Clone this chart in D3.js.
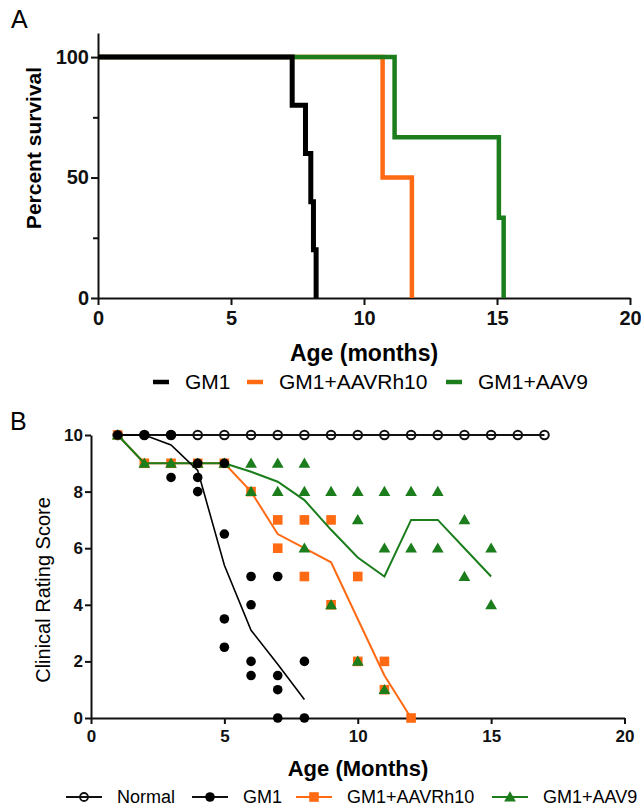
<!DOCTYPE html>
<html>
<head>
<meta charset="utf-8">
<script src="https://cdn.jsdelivr.net/npm/d3@7"></script>
<style>
  body { margin: 0; background: #fff; }
  svg { display: block; font-family: "Liberation Sans", Arial, sans-serif; }
  .tick text { fill: #111; }
</style>
</head>
<body>
<svg id="chart" width="641" height="807"></svg>
<script>
// ---- data: panel A (Kaplan-Meier survival, [month, percent]) ----
var survGM1 = [[0, 100], [7.3, 80], [7.8, 60], [8.0, 40], [8.1, 20], [8.2, 0]];
var survRh10 = [[0, 100], [10.7, 50], [11.8, 0]];
var survAAV9 = [[0, 100], [11.15, 66.7], [15.07, 33.3], [15.25, 0]];
var survTicksY = [0, 25, 50, 75, 100];
var monthTicks = [0, 5, 10, 15, 20];

// ---- data: panel B (clinical rating score, [month, score]) ----
var normalPts = [[1, 10], [2, 10], [3, 10], [4, 10], [5, 10], [6, 10], [7, 10], [8, 10], [9, 10],
    [10, 10], [11, 10], [12, 10], [13, 10], [14, 10], [15, 10], [16, 10], [17, 10]];
var gm1Pts = [[1, 10], [2, 10], [3, 10], [3, 8.5], [4, 9], [4, 8.5], [4, 8], [5, 9], [5, 6.5], [5, 3.5],
    [5, 2.5], [6, 5], [6, 4], [6, 2], [6, 1.5], [7, 5], [7, 1.5], [7, 1], [7, 0], [8, 2], [8, 0]];
var gm1Mean = [[1, 10], [2, 10], [3, 9.65], [4, 8.75], [5, 5.4], [6, 3.1], [7, 1.9], [8, 0.65]];
var rh10Pts = [[1, 10], [2, 9], [3, 9], [4, 9], [5, 9], [6, 8], [7, 7], [7, 6], [8, 7], [8, 5], [9, 7],
    [9, 4], [10, 5], [10, 2], [11, 2], [11, 1], [12, 0]];
var rh10Mean = [[1, 10], [2, 9], [3, 9], [4, 9], [5, 9], [6, 8], [7, 6.5], [8, 6], [9, 5.5], [10, 3.5],
    [11, 1.5], [12, 0]];
var aav9Pts = [[1, 10], [2, 9], [3, 9], [4, 9], [5, 9], [6, 9], [6, 8], [7, 9], [7, 8], [8, 9], [8, 8],
    [8, 6], [9, 8], [9, 4], [10, 8], [10, 7], [10, 2], [11, 8], [11, 6], [11, 1], [12, 8], [12, 6],
    [13, 8], [13, 6], [14, 7], [14, 5], [15, 6], [15, 4]];
var aav9Mean = [[1, 10], [2, 9], [3, 9], [4, 9], [5, 9], [6, 8.7], [7, 8.35], [8, 7.7], [9, 6.65],
    [10, 5.67], [11, 5], [12, 7], [13, 7], [14, 6], [15, 5]];
var scoreTicks = [0, 2, 4, 6, 8, 10];

var black = "#000", orange = "#ff6a13", green = "#1b7d1b";

var svg = d3.select("#chart");
svg.append("rect").attr("width", 641).attr("height", 807).attr("fill", "#fff");

/****** Panel A ******/
var xA = d3.scaleLinear().domain([0, 20]).range([98, 630]),
    yA = d3.scaleLinear().domain([0, 110]).range([298, 33]);

var gA = svg.append("g");

var axA_x = gA.append("g").attr("transform", "translate(0," + yA(0) + ")")
    .call(d3.axisBottom(xA).tickValues(monthTicks).tickSize(7).tickSizeOuter(0).tickPadding(6));
var axA_y = gA.append("g").attr("transform", "translate(" + xA(0) + ",0)")
    .call(d3.axisLeft(yA).tickValues(survTicksY).tickSize(7).tickSizeOuter(0).tickPadding(2)
        .tickFormat(function (d) { return d % 50 === 0 ? d : ""; }));
axA_y.selectAll(".tick line").attr("x2", function (d) { return d % 50 === 0 ? -7 : -5; });

[axA_x, axA_y].forEach(function (ax) {
    ax.select(".domain").attr("stroke", "#111").attr("stroke-width", 2);
    ax.selectAll(".tick line").attr("stroke", "#111").attr("stroke-width", 2);
    ax.selectAll(".tick text").attr("font-size", 20).attr("font-weight", "bold");
});

var stepLine = d3.line()
    .x(function (d) { return xA(d[0]); })
    .y(function (d) { return yA(d[1]); })
    .curve(d3.curveStepAfter);

[[survRh10, orange, 4.5], [survAAV9, green, 4.5], [survGM1, black, 5]].forEach(function (s) {
    gA.append("path").datum(s[0])
        .attr("d", stepLine)
        .attr("fill", "none")
        .attr("stroke", s[1])
        .attr("stroke-width", s[2])
        .attr("stroke-linejoin", "miter")
        .attr("stroke-linecap", "butt");
});

gA.append("text").attr("x", 11).attr("y", 28).attr("font-size", 25).text("A");
gA.append("text")
    .attr("transform", "translate(41,148) rotate(-90)")
    .attr("text-anchor", "middle").attr("font-size", 21).attr("font-weight", "bold")
    .text("Percent survival");
gA.append("text").attr("x", 364).attr("y", 361)
    .attr("text-anchor", "middle").attr("font-size", 23).attr("font-weight", "bold")
    .text("Age (months)");

var legendA = [["GM1", black, 153], ["GM1+AAVRh10", orange, 247], ["GM1+AAV9", green, 446]];
legendA.forEach(function (l) {
    gA.append("line").attr("x1", l[2]).attr("x2", l[2] + 16).attr("y1", 382).attr("y2", 382)
        .attr("stroke", l[1]).attr("stroke-width", 4.5);
    gA.append("text").attr("x", l[2] + 32).attr("y", 389).attr("font-size", 21).text(l[0]);
});

/****** Panel B ******/
var xB = d3.scaleLinear().domain([0, 20]).range([91, 624.5]),
    yB = d3.scaleLinear().domain([0, 10]).range([718, 435]);

var gB = svg.append("g");

var axB_x = gB.append("g").attr("transform", "translate(0," + yB(0) + ")")
    .call(d3.axisBottom(xB).tickValues(monthTicks).tickSize(6).tickSizeOuter(0).tickPadding(6));
var axB_y = gB.append("g").attr("transform", "translate(" + xB(0) + ",0)")
    .call(d3.axisLeft(yB).tickValues(scoreTicks).tickSize(6).tickSizeOuter(0).tickPadding(2));

[axB_x, axB_y].forEach(function (ax) {
    ax.select(".domain").attr("stroke", "#111").attr("stroke-width", 2);
    ax.selectAll(".tick line").attr("stroke", "#111").attr("stroke-width", 2);
    ax.selectAll(".tick text").attr("font-size", 17).attr("font-weight", "bold");
});

var meanLine = d3.line()
    .x(function (d) { return xB(d[0]); })
    .y(function (d) { return yB(d[1]); });

var triangle = d3.symbol().type(d3.symbolTriangle).size(60);

// normal
gB.append("path").datum(normalPts).attr("d", meanLine)
    .attr("fill", "none").attr("stroke", "#111").attr("stroke-width", 2);
gB.selectAll("circle.normal").data(normalPts).enter().append("circle")
    .attr("class", "normal")
    .attr("cx", function (d) { return xB(d[0]); })
    .attr("cy", function (d) { return yB(d[1]); })
    .attr("r", 4.3).attr("fill", "none").attr("stroke", "#111").attr("stroke-width", 2);

// GM1+AAVRh10
gB.append("path").datum(rh10Mean).attr("d", meanLine)
    .attr("fill", "none").attr("stroke", orange).attr("stroke-width", 2);
gB.selectAll("rect.rh10").data(rh10Pts).enter().append("rect")
    .attr("class", "rh10")
    .attr("x", function (d) { return xB(d[0]) - 4.8; })
    .attr("y", function (d) { return yB(d[1]) - 4.8; })
    .attr("width", 9.6).attr("height", 9.6).attr("fill", orange);

// GM1+AAV9
gB.append("path").datum(aav9Mean).attr("d", meanLine)
    .attr("fill", "none").attr("stroke", green).attr("stroke-width", 2);
gB.selectAll("path.aav9").data(aav9Pts).enter().append("path")
    .attr("class", "aav9")
    .attr("transform", function (d) { return "translate(" + xB(d[0]) + "," + (yB(d[1]) + 1) + ")"; })
    .attr("d", triangle).attr("fill", green);

// GM1
gB.append("path").datum(gm1Mean).attr("d", meanLine)
    .attr("fill", "none").attr("stroke", black).attr("stroke-width", 1.6);
gB.selectAll("circle.gm1").data(gm1Pts).enter().append("circle")
    .attr("class", "gm1")
    .attr("cx", function (d) { return xB(d[0]); })
    .attr("cy", function (d) { return yB(d[1]); })
    .attr("r", 4.8).attr("fill", black);

gB.append("text").attr("x", 10).attr("y", 430).attr("font-size", 25).text("B");
gB.append("text")
    .attr("transform", "translate(50,590) rotate(-90)")
    .attr("text-anchor", "middle").attr("font-size", 20)
    .text("Clinical Rating Score");
gB.append("text").attr("x", 358).attr("y", 776)
    .attr("text-anchor", "middle").attr("font-size", 22).attr("font-weight", "bold")
    .text("Age (Months)");

// legend B
var legendB = [["Normal", "open", 66], ["GM1", "dot", 192], ["GM1+AAVRh10", "square", 296], ["GM1+AAV9", "tri", 492]];
legendB.forEach(function (l) {
    var cx = l[2] + 18, y = 797,
        col = l[1] === "square" ? orange : l[1] === "tri" ? green : "#111";
    gB.append("line").attr("x1", l[2]).attr("x2", l[2] + 36).attr("y1", y).attr("y2", y)
        .attr("stroke", col).attr("stroke-width", 2);
    if (l[1] === "open") {
        gB.append("circle").attr("cx", cx).attr("cy", y).attr("r", 4)
            .attr("fill", "none").attr("stroke", "#111").attr("stroke-width", 1.8);
    } else if (l[1] === "dot") {
        gB.append("circle").attr("cx", cx).attr("cy", y).attr("r", 4.8).attr("fill", black);
    } else if (l[1] === "square") {
        gB.append("rect").attr("x", cx - 4.8).attr("y", y - 4.8).attr("width", 9.6).attr("height", 9.6).attr("fill", orange);
    } else {
        gB.append("path").attr("transform", "translate(" + cx + "," + (y + 1) + ")").attr("d", triangle).attr("fill", green);
    }
    gB.append("text").attr("x", l[2] + 51).attr("y", y + 6).attr("font-size", 18).text(l[0]);
});
</script>
</body>
</html>
